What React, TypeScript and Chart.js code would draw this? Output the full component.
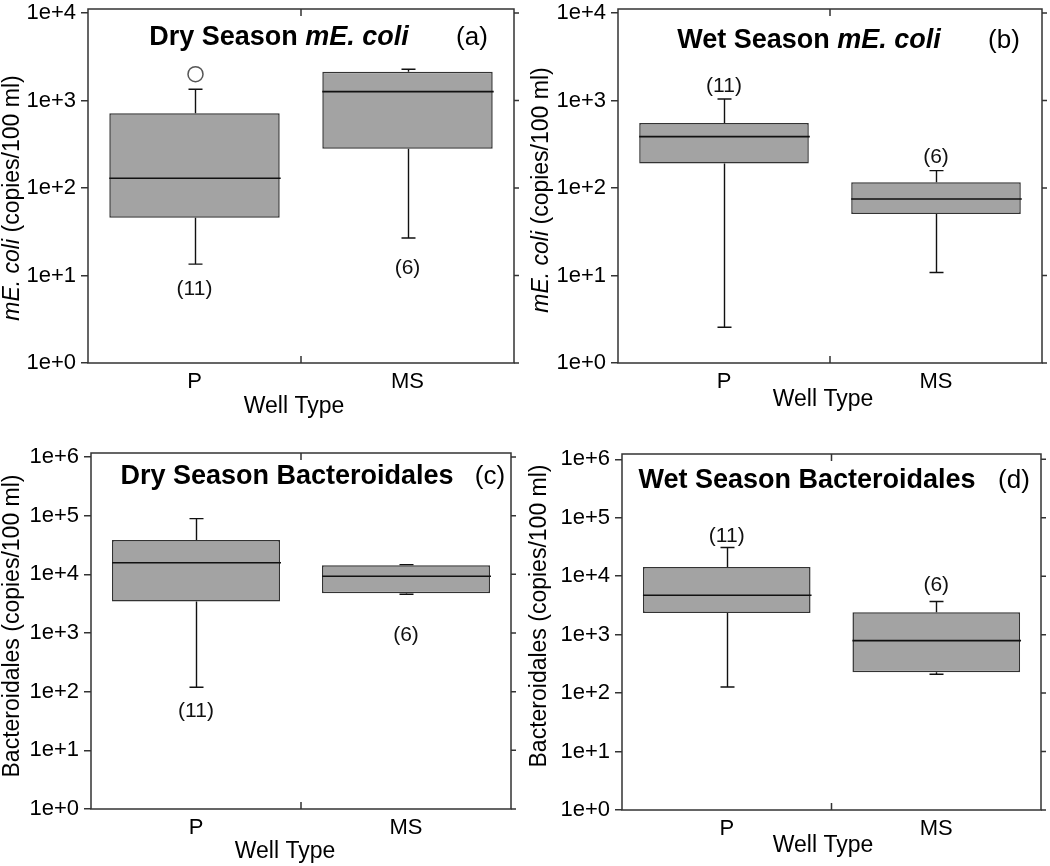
import React, { useEffect, useRef } from 'react';
import { Chart, registerables } from 'chart.js';

Chart.register(...registerables);

const FONT = '"Liberation Sans", Arial, Helvetica, sans-serif';

// ---------- data ----------
const categories = ['P', 'MS'];
const ecoliTicks = [1, 10, 100, 1000, 10000];
const bactTicks = [1, 10, 100, 1000, 10000, 100000, 1000000];
const countLabels = ['(11)', '(6)'];

// (a) Dry season mE. coli
const dryEcoliMin = [13.5, 26.8];
const dryEcoliQ1 = [45.8, 281];
const dryEcoliMedian = [129, 1262];
const dryEcoliQ3 = [713, 2135];
const dryEcoliMax = [1342, 2270];
const dryEcoliOutliers = [[2000], []];
const dryEcoliCountAt = [7.0, 12.2];

// (b) Wet season mE. coli
const wetEcoliMin = [2.56, 10.8];
const wetEcoliQ1 = [191, 50.4];
const wetEcoliMedian = [386, 74.8];
const wetEcoliQ3 = [553, 116];
const wetEcoliMax = [1040, 158];
const wetEcoliOutliers = [[], []];
const wetEcoliCountAt = [1465, 226];

// (c) Dry season Bacteroidales
const dryBactMin = [119, 4580];
const dryBactQ1 = [3430, 4760];
const dryBactMedian = [15800, 9270];
const dryBactQ3 = [38500, 14270];
const dryBactMax = [89000, 14650];
const dryBactOutliers = [[], []];
const dryBactCountAt = [46.8, 925];

// (d) Wet season Bacteroidales
const wetBactMin = [127, 210];
const wetBactQ1 = [2350, 227];
const wetBactMedian = [4720, 791];
const wetBactQ3 = [14400, 2415];
const wetBactMax = [30850, 3680];
const wetBactOutliers = [[], []];
const wetBactCountAt = [48700, 7070];

type Part = { t: string; i: boolean };

const panels = [
  {
    key: 'a', left: 0, top: 0, width: 525, height: 425,
    padTop: 9, padRight: 11, yWidth: 88, xHeight: 62, yMax: 11100,
    ticks: ecoliTicks,
    min: dryEcoliMin, q1: dryEcoliQ1, med: dryEcoliMedian, q3: dryEcoliQ3, max: dryEcoliMax,
    outliers: dryEcoliOutliers, countAt: dryEcoliCountAt,
    title: [{ t: 'Dry Season ', i: false }, { t: 'mE. coli', i: true }] as Part[],
    titleX: 279, titleY: 45, tag: '(a)', tagX: 472,
    yTitle: [{ t: 'mE. coli', i: true }, { t: ' (copies/100 ml)', i: false }] as Part[],
    yTitleX: 13, yTitleY: 198, xTitleX: 294, xTitleY: 407,
  },
  {
    key: 'b', left: 525, top: 0, width: 525, height: 425,
    padTop: 9, padRight: 8, yWidth: 93, xHeight: 62, yMax: 11100,
    ticks: ecoliTicks,
    min: wetEcoliMin, q1: wetEcoliQ1, med: wetEcoliMedian, q3: wetEcoliQ3, max: wetEcoliMax,
    outliers: wetEcoliOutliers, countAt: wetEcoliCountAt,
    title: [{ t: 'Wet Season ', i: false }, { t: 'mE. coli', i: true }] as Part[],
    titleX: 284, titleY: 48, tag: '(b)', tagX: 479,
    yTitle: [{ t: 'mE. coli', i: true }, { t: ' (copies/100 ml)', i: false }] as Part[],
    yTitleX: 17, yTitleY: 190, xTitleX: 298, xTitleY: 400,
  },
  {
    key: 'c', left: 0, top: 425, width: 525, height: 441,
    padTop: 28, padRight: 14, yWidth: 91, xHeight: 57, yMax: 1170000,
    ticks: bactTicks,
    min: dryBactMin, q1: dryBactQ1, med: dryBactMedian, q3: dryBactQ3, max: dryBactMax,
    outliers: dryBactOutliers, countAt: dryBactCountAt,
    title: [{ t: 'Dry Season Bacteroidales', i: false }] as Part[],
    titleX: 287, titleY: 59, tag: '(c)', tagX: 490,
    yTitle: [{ t: 'Bacteroidales (copies/100 ml)', i: false }] as Part[],
    yTitleX: 13, yTitleY: 201, xTitleX: 285, xTitleY: 427,
  },
  {
    key: 'd', left: 525, top: 425, width: 525, height: 441,
    padTop: 29, padRight: 9, yWidth: 97, xHeight: 56, yMax: 1230000,
    ticks: bactTicks,
    min: wetBactMin, q1: wetBactQ1, med: wetBactMedian, q3: wetBactQ3, max: wetBactMax,
    outliers: wetBactOutliers, countAt: wetBactCountAt,
    title: [{ t: 'Wet Season Bacteroidales', i: false }] as Part[],
    titleX: 282, titleY: 63, tag: '(d)', tagX: 489,
    yTitle: [{ t: 'Bacteroidales (copies/100 ml)', i: false }] as Part[],
    yTitleX: 15, yTitleY: 191, xTitleX: 298, xTitleY: 421,
  },
];

type Cfg = typeof panels[number];

function drawParts(ctx: CanvasRenderingContext2D, parts: Part[], cx: number, y: number, size: number, bold: boolean) {
  const fontOf = (p: Part) => `${p.i ? 'italic ' : ''}${bold ? 'bold ' : ''}${size}px ${FONT}`;
  let total = 0;
  const widths = parts.map((p) => {
    ctx.font = fontOf(p);
    const w = ctx.measureText(p.t).width;
    total += w;
    return w;
  });
  let x = cx - total / 2;
  ctx.textAlign = 'left';
  parts.forEach((p, i) => {
    ctx.font = fontOf(p);
    ctx.fillText(p.t, x, y);
    x += widths[i];
  });
}

function boxPlugin(cfg: Cfg) {
  return {
    id: 'boxplot-' + cfg.key,
    afterDraw(chart: any) {
      const ctx: CanvasRenderingContext2D = chart.ctx;
      const area = chart.chartArea;
      const ys = chart.scales.y;
      const meta = chart.getDatasetMeta(0);
      ctx.save();

      // whiskers, medians, outliers
      meta.data.forEach((el: any, i: number) => {
        const x = Math.round(el.x) + 0.5;
        const half = el.width / 2;
        const yMin = ys.getPixelForValue(cfg.min[i]);
        const yQ1 = ys.getPixelForValue(cfg.q1[i]);
        const yMed = ys.getPixelForValue(cfg.med[i]);
        const yQ3 = ys.getPixelForValue(cfg.q3[i]);
        const yMax = ys.getPixelForValue(cfg.max[i]);
        ctx.strokeStyle = '#111';
        ctx.lineWidth = 1.4;
        ctx.beginPath();
        ctx.moveTo(x, yQ1);
        ctx.lineTo(x, yMin);
        ctx.moveTo(x - 7, yMin);
        ctx.lineTo(x + 7, yMin);
        ctx.moveTo(x, yQ3);
        ctx.lineTo(x, yMax);
        ctx.moveTo(x - 7, yMax);
        ctx.lineTo(x + 7, yMax);
        ctx.stroke();
        ctx.lineWidth = 1.6;
        ctx.beginPath();
        ctx.moveTo(el.x - half, yMed);
        ctx.lineTo(el.x + half + 1, yMed);
        ctx.stroke();
        cfg.outliers[i].forEach((v: number) => {
          ctx.strokeStyle = '#555';
          ctx.lineWidth = 1.5;
          ctx.beginPath();
          ctx.arc(x, ys.getPixelForValue(v), 7.5, 0, Math.PI * 2);
          ctx.stroke();
        });
        // count label
        ctx.fillStyle = '#111';
        ctx.font = `21px ${FONT}`;
        ctx.textAlign = 'center';
        ctx.textBaseline = 'middle';
        ctx.fillText(countLabels[i], el.x, ys.getPixelForValue(cfg.countAt[i]));
      });

      // frame
      ctx.strokeStyle = '#333';
      ctx.lineWidth = 1.5;
      ctx.strokeRect(area.left, area.top, area.right - area.left, area.bottom - area.top);
      ctx.beginPath();
      cfg.ticks.forEach((v: number) => {
        const y = ys.getPixelForValue(v);
        ctx.moveTo(area.right, y);
        ctx.lineTo(area.right + 5, y);
      });
      const mid = (area.left + area.right) / 2;
      ctx.moveTo(mid, area.top);
      ctx.lineTo(mid, area.top + 7);
      ctx.moveTo(mid, area.bottom);
      ctx.lineTo(mid, area.bottom - 7);
      ctx.stroke();

      // titles
      ctx.fillStyle = '#000';
      ctx.textBaseline = 'alphabetic';
      drawParts(ctx, cfg.title, cfg.titleX, cfg.titleY, 27, true);
      ctx.font = `26px ${FONT}`;
      ctx.textAlign = 'center';
      ctx.fillText(cfg.tag, cfg.tagX, cfg.titleY);

      // x title
      ctx.textBaseline = 'middle';
      drawParts(ctx, [{ t: 'Well Type', i: false }], cfg.xTitleX, cfg.xTitleY, 23, false);

      // y title
      ctx.translate(cfg.yTitleX, cfg.yTitleY);
      ctx.rotate(-Math.PI / 2);
      ctx.textBaseline = 'middle';
      drawParts(ctx, cfg.yTitle, 0, 0, 23, false);
      ctx.restore();
    },
  };
}

function Panel({ cfg }: { cfg: Cfg }) {
  const ref = useRef<HTMLCanvasElement>(null);
  useEffect(() => {
    const chart = new Chart(ref.current as HTMLCanvasElement, {
      type: 'bar',
      data: {
        labels: categories,
        datasets: [
          {
            data: cfg.q1.map((q: number, i: number) => [q, cfg.q3[i]]) as any,
            backgroundColor: '#a3a3a3',
            borderColor: '#333',
            borderWidth: 1.5,
            borderSkipped: false,
            barPercentage: 0.8,
            categoryPercentage: 1,
          },
        ],
      },
      options: {
        responsive: false,
        animation: false,
        devicePixelRatio: 1,
        layout: { padding: { left: 0, top: cfg.padTop, right: cfg.padRight, bottom: 0 } },
        plugins: {
          legend: { display: false },
          tooltip: { enabled: false },
          title: { display: false },
        },
        scales: {
          x: {
            type: 'category',
            offset: true,
            grid: { display: false, drawTicks: false },
            border: { display: false },
            ticks: { color: '#000', font: { size: 22, family: FONT }, padding: 6 },
            afterFit: (s: any) => {
              s.height = cfg.xHeight;
              s.paddingLeft = 0;
              s.paddingRight = 0;
            },
          },
          y: {
            type: 'logarithmic',
            min: 1,
            max: cfg.yMax,
            afterBuildTicks: (s: any) => {
              s.ticks = cfg.ticks.map((v: number) => ({ value: v }));
            },
            ticks: {
              autoSkip: false,
              color: '#000',
              font: { size: 22, family: FONT },
              padding: 5,
              callback: (v: any) => '1e+' + Math.round(Math.log10(Number(v))),
            },
            grid: {
              display: true,
              drawOnChartArea: false,
              drawTicks: true,
              tickLength: 7,
              color: '#333',
              lineWidth: 1.5,
            },
            border: { display: false },
            afterFit: (s: any) => {
              s.width = cfg.yWidth;
              s.paddingTop = 0;
              s.paddingBottom = 0;
            },
          },
        },
      } as any,
      plugins: [boxPlugin(cfg)],
    });
    return () => chart.destroy();
  }, []);
  return (
    <div style={{ position: 'absolute', left: cfg.left, top: cfg.top, width: cfg.width, height: cfg.height }}>
      <canvas ref={ref} width={cfg.width} height={cfg.height} style={{ width: cfg.width, height: cfg.height, display: 'block' }} />
    </div>
  );
}

export default function App() {
  return (
    <div style={{ position: 'absolute', left: 0, top: 0, width: 1050, height: 866, background: '#fff', overflow: 'hidden' }}>
      {panels.map((p) => (
        <Panel key={p.key} cfg={p} />
      ))}
    </div>
  );
}
